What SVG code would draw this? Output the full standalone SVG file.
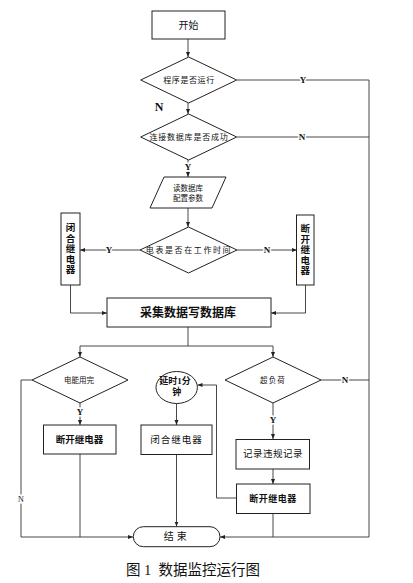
<svg xmlns="http://www.w3.org/2000/svg" width="413" height="583" viewBox="0 0 413 583">
<style>
.s{fill:#fff;stroke:#222;stroke-width:1}
.c{fill:none;stroke:#333;stroke-width:0.9}
.t{font-family:"Liberation Serif","Noto Sans CJK SC",serif;fill:#111;text-anchor:middle;dominant-baseline:central}
.l{font-family:"Liberation Serif","Noto Sans CJK SC",serif;font-weight:bold;fill:#111;font-size:9px;text-anchor:middle;dominant-baseline:central;stroke:#fff;stroke-width:3;paint-order:stroke}
</style>
<defs>
<marker id="a" viewBox="0 0 10 10" refX="10" refY="5" markerWidth="5" markerHeight="5" orient="auto" markerUnits="userSpaceOnUse">
<path d="M0,1 L10,5 L0,9 z" fill="#222"/>
</marker>
</defs>
<rect width="413" height="583" fill="#fff"/>
<g id="connectors">
<path class="c" d="M188,39 V57" marker-end="url(#a)"/>
<path class="c" d="M237,80 H369 V537 H220" marker-end="url(#a)"/>
<path class="c" d="M188,103 V114" marker-end="url(#a)"/>
<path class="c" d="M237,137 H369"/>
<path class="c" d="M188,160 V177" marker-end="url(#a)"/>
<path class="c" d="M188,208 V227" marker-end="url(#a)"/>
<path class="c" d="M140,250 H80" marker-end="url(#a)"/>
<path class="c" d="M237,250 H297" marker-end="url(#a)"/>
<path class="c" d="M70.5,285 V313 H107" marker-end="url(#a)"/>
<path class="c" d="M305.5,285 V313 H271" marker-end="url(#a)"/>
<path class="c" d="M188,327 V346 H80 V357" marker-end="url(#a)"/>
<path class="c" d="M188,346 H273 V357" marker-end="url(#a)"/>
<path class="c" d="M32,380 H21 V537 H133" marker-end="url(#a)"/>
<path class="c" d="M80,403 V425" marker-end="url(#a)"/>
<path class="c" d="M80,454 V537"/>
<path class="c" d="M176.5,403.5 V425" marker-end="url(#a)"/>
<path class="c" d="M176.5,454.5 V526.5" marker-end="url(#a)"/>
<path class="c" d="M321,380 H369"/>
<path class="c" d="M273,403 V439" marker-end="url(#a)"/>
<path class="c" d="M273,469 V484" marker-end="url(#a)"/>
<path class="c" d="M273,513.5 V537"/>
<path class="c" d="M236.5,498 H216.5 V385 H197.5" marker-end="url(#a)"/>
<text class="l" x="303" y="80">Y</text>
<text class="l" x="302" y="137">N</text>
<text class="l" x="159" y="107" style="font-size:12px;stroke:none">N</text>
<text class="l" x="188" y="167">Y</text>
<text class="l" x="109" y="250">Y</text>
<text class="l" x="267" y="250">N</text>
<text class="l" x="80" y="412">Y</text>
<text class="l" x="273" y="420">Y</text>
<text class="l" x="345" y="380">N</text>
<text class="l" x="21" y="499" style="font-weight:normal;font-size:8px">N</text>
</g>
<g id="start">
<rect class="s" x="152" y="11" width="73" height="28"/>
<text class="t" x="188.5" y="25" font-size="10">开始</text>
</g>
<g id="d1">
<polygon class="s" points="188.7,57 236.7,80 188.7,103 140.7,80"/>
<text class="t" x="189" y="80" font-size="8" letter-spacing="0.6">程序是否运行</text>
</g>
<g id="d2">
<polygon class="s" points="188.7,114 236.7,137 188.7,160 140.7,137"/>
<text class="t" x="189" y="137" font-size="8" letter-spacing="0.8">连接数据库是否成功</text>
</g>
<g id="read">
<polygon class="s" points="164,177 226,177 212,208 150,208"/>
<text class="t" x="188" y="188" font-size="7.5">读数据库</text>
<text class="t" x="188" y="198" font-size="7.5">配置参数</text>
</g>
<g id="d3">
<polygon class="s" points="188.5,227 237,250 188.5,273 140,250"/>
<text class="t" x="189" y="250" font-size="8" letter-spacing="1.6">电表是否在工作时间</text>
</g>
<g id="closeL">
<rect class="s" x="61" y="213" width="19" height="72"/>
<text class="t" font-size="9.5" font-weight="bold"><tspan x="70.5" y="228">闭</tspan><tspan x="70.5" y="238.5">合</tspan><tspan x="70.5" y="249">继</tspan><tspan x="70.5" y="259.5">电</tspan><tspan x="70.5" y="270">器</tspan></text>
</g>
<g id="openR">
<rect class="s" x="296.5" y="215" width="17.5" height="70"/>
<text class="t" font-size="9.5" font-weight="bold"><tspan x="305.3" y="229">断</tspan><tspan x="305.3" y="239.5">开</tspan><tspan x="305.3" y="250">继</tspan><tspan x="305.3" y="260.5">电</tspan><tspan x="305.3" y="271">器</tspan></text>
</g>
<g id="collect">
<rect class="s" x="107" y="298" width="164" height="29"/>
<text class="t" x="188" y="312.5" font-size="12" font-weight="bold">采集数据写数据库</text>
</g>
<g id="d4">
<polygon class="s" points="80,357 128,380 80,403 32,380"/>
<text class="t" x="79" y="380" font-size="7.5">电能用完</text>
</g>
<g id="openL">
<rect class="s" x="43.5" y="425" width="72.5" height="29"/>
<text class="t" x="79.5" y="440" font-size="9.5" font-weight="bold">断开继电器</text>
</g>
<g id="delay">
<ellipse class="s" cx="176.7" cy="387.5" rx="20.7" ry="16"/>
<text class="t" x="175" y="381" font-size="9" font-weight="bold">延时1分</text>
<text class="t" x="176.7" y="391.5" font-size="9" font-weight="bold">钟</text>
</g>
<g id="closeM">
<rect class="s" x="141" y="425" width="71" height="29.5"/>
<text class="t" x="176.5" y="440" font-size="9.5" letter-spacing="1">闭合继电器</text>
</g>
<g id="d5">
<polygon class="s" points="273,357 321,380 273,403 225,380"/>
<text class="t" x="273" y="380" font-size="7.5" letter-spacing="1.2">超负荷</text>
</g>
<g id="record">
<rect class="s" x="236" y="439.5" width="73.5" height="29.5"/>
<text class="t" x="273" y="454" font-size="9.5" letter-spacing="0.5">记录违规记录</text>
</g>
<g id="openR2">
<rect class="s" x="236.5" y="484" width="73.5" height="29.5"/>
<text class="t" x="273" y="498.7" font-size="9" font-weight="bold" letter-spacing="0.5">断开继电器</text>
</g>
<g id="end">
<rect class="s" x="133.3" y="526.7" width="86.7" height="20" rx="10" ry="10"/>
<text class="t" x="176.7" y="536.7" font-size="10" letter-spacing="3">结束</text>
</g>
<text class="t" x="193" y="570" font-size="14.5" fill="#222" style="white-space:pre">图 1  数据监控运行图</text>
</svg>
